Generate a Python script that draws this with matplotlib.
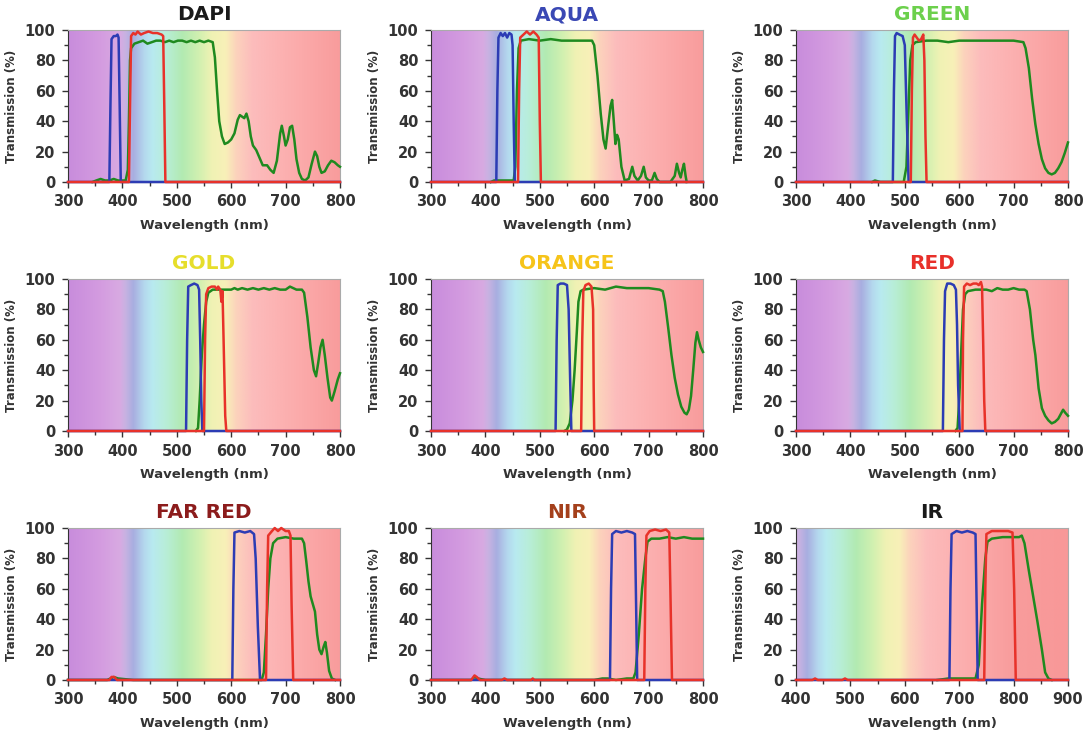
import numpy as np
import matplotlib
matplotlib.use("Agg")
import matplotlib.pyplot as plt
from matplotlib.colors import to_rgb
from matplotlib.ticker import MultipleLocator

plt.rcParams['font.family'] = ['DejaVu Sans']
plt.rcParams['font.weight'] = 'bold'

# background spectrum (wavelength -> pastel colour)
spec_nm = [300, 360, 395, 405, 420, 440, 455, 480, 510, 540, 565, 590, 610, 640, 700, 760, 800, 900]
spec_col = ['#c88cdc', '#d49ce0', '#d8aae2', '#c8b2e2', '#a8aee0', '#b4d8ee', '#b8eaf0', '#b8eed8',
            '#b2eab2', '#d0f0b0', '#f0f2b4', '#f8f0b8', '#fcd2bc', '#fcbcbc', '#fcb0b0', '#faa4a4',
            '#f89c9c', '#f89898']

# (wavelength nm, transmission %)
dapi_ex = [(300,0),(376,0),(378,50),(380,94),(384,96),(388,96),(391,97),(393,95),(395,50),(397,0),(800,0)]
dapi_em = [(300,0),(412,0),(414,50),(416,96),(420,98),(424,97),(428,99),(434,97),(440,98),(448,99),(456,98),
           (464,98),(472,97),(475,96),(477,50),(479,0),(800,0)]
dapi_dc = [(345,0),(352,1),(360,2),(368,1),(376,1),(384,2),(392,1),(400,1),(406,1),(410,8),(412,40),(414,80),
           (416,88),(422,91),(430,92),(438,93),(446,91),(454,92),(462,93),(470,93),(478,92),(486,93),(494,92),
           (502,93),(510,93),(518,92),(526,93),(534,92),(542,93),(550,92),(558,93),(566,92),(570,82),(574,60),
           (578,40),(583,30),(588,25),(594,26),(600,28),(606,32),(612,41),(616,44),(620,43),(624,42),(628,45),
           (632,40),(636,30),(640,24),(646,21),(652,16),(658,11),(666,11),(672,8),(678,6),(684,14),(690,32),
           (693,37),(697,30),(700,24),(704,28),(708,36),(712,37),(716,28),(720,15),(725,6),(730,2),(736,1),
           (742,3),(748,12),(754,20),(758,17),(762,10),(766,6),(772,7),(778,11),(784,14),(790,13),(796,11),(800,10)]

aqua_ex = [(300,0),(420,0),(422,60),(424,95),(428,98),(432,96),(436,98),(440,95),(444,98),(448,97),(450,90),
           (452,40),(454,0),(800,0)]
aqua_em = [(300,0),(460,0),(462,60),(464,95),(470,97),(476,99),(482,97),(488,99),(494,97),(498,95),(500,40),
           (502,0),(800,0)]
aqua_dc = [(410,0),(416,1),(430,1),(445,1),(452,1),(455,10),(458,60),(461,88),(465,93),(480,94),(500,93),
           (520,94),(540,93),(560,93),(580,93),(596,93),(600,90),(606,70),(612,45),(617,28),(621,22),(626,38),
           (630,50),(633,54),(636,40),(639,25),(642,31),(645,28),(650,10),(656,1),(664,2),(670,10),(674,4),
           (680,1),(686,4),(691,10),(695,3),(700,1),(706,1),(711,6),(715,2),(720,0),(740,0),(748,4),(752,12),
           (756,6),(759,3),(762,8),(765,12),(768,4),(770,0)]

green_ex = [(300,0),(478,0),(480,60),(482,96),(485,98),(490,97),(496,96),(500,90),(503,50),(507,0),(800,0)]
green_em = [(300,0),(511,0),(513,60),(515,95),(518,97),(522,95),(526,93),(530,94),(534,97),(536,80),(538,30),
            (540,0),(800,0)]
green_dc = [(440,0),(445,1),(455,0),(470,0),(490,0),(498,0),(503,10),(507,50),(510,80),(514,90),(520,92),
            (540,93),(560,93),(580,92),(600,93),(620,93),(640,93),(660,93),(680,93),(700,93),(718,92),(722,88),
            (728,75),(734,55),(740,38),(746,25),(752,15),(758,9),(764,6),(770,5),(776,6),(782,9),(788,13),
            (794,19),(800,26)]

gold_ex = [(300,0),(517,0),(519,60),(521,95),(526,96),(532,97),(538,96),(541,93),(543,60),(545,20),(547,0),(800,0)]
gold_em = [(300,0),(550,0),(552,60),(554,90),(558,94),(564,95),(570,95),(574,93),(576,95),(580,93),(582,85),
           (584,92),(586,60),(589,10),(591,0),(800,0)]
gold_dc = [(535,0),(539,2),(542,20),(546,50),(550,70),(554,85),(558,91),(566,93),(580,93),(590,93),(600,93),
           (606,94),(612,93),(620,94),(630,93),(640,94),(650,93),(660,94),(670,93),(680,94),(690,93),(700,93),
           (708,95),(714,94),(720,93),(730,93),(734,91),(740,75),(746,55),(752,40),(756,36),(760,45),(764,55),
           (768,60),(772,50),(777,35),(782,22),(785,20),(790,26),(796,34),(800,38)]

orange_ex = [(300,0),(529,0),(531,60),(533,96),(538,97),(544,97),(550,96),(553,80),(556,30),(558,0),(800,0)]
orange_em = [(300,0),(576,0),(578,60),(580,92),(584,96),(590,97),(595,95),(598,80),(599,30),(600,0),(800,0)]
orange_dc = [(545,0),(550,1),(555,5),(560,20),(564,40),(568,65),(571,85),(575,92),(580,93),(600,94),(620,93),
             (640,95),(660,94),(680,94),(700,94),(720,93),(726,92),(730,85),(736,68),(742,50),(748,35),(754,24),
             (760,16),(766,12),(770,11),(774,14),(778,23),(782,40),(786,58),(789,65),(792,60),(796,55),(800,52)]

red_ex = [(300,0),(570,0),(572,60),(574,92),(578,97),(584,97),(590,96),(594,93),(596,70),(598,30),(601,0),(800,0)]
red_em = [(300,0),(606,0),(607,60),(609,95),(614,97),(620,96),(626,97),(632,97),(636,96),(640,98),(642,95),
          (644,60),(646,20),(648,0),(800,0)]
red_dc = [(593,0),(597,2),(600,20),(604,55),(607,80),(611,90),(616,92),(630,93),(650,93),(660,92),(670,94),
          (680,93),(690,93),(700,94),(710,93),(720,93),(724,92),(730,80),(736,60),(740,50),(746,28),(752,15),
          (758,10),(764,7),(770,5),(776,6),(782,8),(788,12),(791,14),(795,12),(800,10)]

farred_ex = [(300,0),(602,0),(604,60),(606,97),(615,98),(625,97),(635,98),(642,96),(645,80),(649,35),(653,0),(800,0)]
farred_em = [(300,0),(376,0),(380,2),(385,2),(390,0),(664,0),(666,60),(668,95),(675,98),(680,100),(686,98),
             (692,100),(700,98),(706,98),(709,95),(711,50),(714,0),(800,0)]
farred_dc = [(300,0),(372,0),(378,1),(384,2),(392,1),(420,0),(650,0),(656,0),(660,5),(664,30),(668,60),(672,80),
             (677,90),(685,93),(700,94),(715,93),(730,93),(734,90),(738,78),(742,65),(746,55),(750,50),(754,45),
             (758,30),(762,20),(766,17),(770,22),(773,25),(776,18),(780,6),(785,1),(791,0)]

nir_ex = [(300,0),(629,0),(631,60),(633,96),(640,98),(650,97),(660,98),(670,97),(675,96),(677,50),(679,0),(800,0)]
nir_em = [(300,0),(374,0),(380,3),(384,2),(390,0),(430,0),(435,1),(440,0),(484,0),(487,1),(490,0),(692,0),
          (694,60),(696,95),(702,98),(712,99),(722,98),(732,99),(738,97),(740,60),(743,0),(800,0)]
nir_dc = [(300,0),(374,0),(380,2),(386,1),(400,0),(600,0),(615,1),(625,1),(640,0),(660,1),(672,1),(676,5),
          (682,30),(688,60),(694,80),(698,91),(705,93),(720,93),(735,94),(750,93),(765,94),(780,93),(800,93)]

ir_ex = [(400,0),(682,0),(684,60),(686,96),(695,98),(705,97),(715,98),(725,97),(730,96),(732,50),(734,0),(900,0)]
ir_em = [(400,0),(430,0),(435,1),(440,0),(485,0),(490,1),(495,0),(746,0),(748,60),(750,96),(760,98),(775,98),
         (790,98),(798,97),(801,60),(804,0),(900,0)]
ir_dc = [(660,0),(680,1),(700,1),(720,1),(730,1),(736,10),(742,50),(748,80),(752,91),(760,93),(780,94),
         (800,94),(810,94),(815,95),(820,90),(828,72),(836,55),(844,38),(852,20),(858,5),(864,1),(870,0)]

titles = ['DAPI', 'AQUA', 'GREEN', 'GOLD', 'ORANGE', 'RED', 'FAR RED', 'NIR', 'IR']
title_colors = ['#1a1a1a', '#3a48b4', '#6cd04c', '#e6de2c', '#f6c41a', '#e8302a', '#8c1c1c', '#a4401c', '#1a1a1a']
xranges = [(300, 800)] * 8 + [(400, 900)]
curves = [(dapi_ex, dapi_em, dapi_dc), (aqua_ex, aqua_em, aqua_dc), (green_ex, green_em, green_dc),
          (gold_ex, gold_em, gold_dc), (orange_ex, orange_em, orange_dc), (red_ex, red_em, red_dc),
          (farred_ex, farred_em, farred_dc), (nir_ex, nir_em, nir_dc), (ir_ex, ir_em, ir_dc)]

fig = plt.figure(figsize=(10.9, 7.38), dpi=100)
lefts = [68, 431, 796]
tops = [30, 279, 528]
W, H = 272, 152

spec_rgb = np.array([to_rgb(c) for c in spec_col])

for i in range(9):
    r, c = divmod(i, 3)
    ax = fig.add_axes([lefts[c] / 1090, 1 - (tops[r] + H) / 738, W / 1090, H / 738])
    x0, x1 = xranges[i]
    xs = np.linspace(x0, x1, 400)
    img = np.stack([np.interp(xs, spec_nm, spec_rgb[:, k]) for k in range(3)], axis=-1)[None, :, :]
    ax.imshow(img, extent=[x0, x1, 0, 100], aspect='auto', zorder=0, interpolation='bilinear')

    ex, em, dc = curves[i]
    ax.plot(*zip(*dc), color='#1f8a1f', lw=1.8, zorder=3, clip_on=False)
    ax.plot(*zip(*ex), color='#2c3cb4', lw=1.8, zorder=4, clip_on=False)
    ax.plot(*zip(*em), color='#e8322a', lw=1.8, zorder=5, clip_on=False)

    ax.set_xlim(x0, x1)
    ax.set_ylim(0, 100)
    ax.xaxis.set_major_locator(MultipleLocator(100))
    ax.xaxis.set_minor_locator(MultipleLocator(50))
    ax.yaxis.set_major_locator(MultipleLocator(20))
    ax.yaxis.set_minor_locator(MultipleLocator(10))
    ax.tick_params(which='major', direction='out', length=4, width=1, labelsize=10.5,
                   colors='#333333', pad=5)
    ax.tick_params(which='minor', direction='out', length=3, width=1, colors='#333333')
    for lab in ax.get_xticklabels() + ax.get_yticklabels():
        lab.set_fontweight('bold')
    for s in ['top', 'right']:
        ax.spines[s].set_color('#aaaaaa')
    ax.spines['left'].set_color('#333333')
    ax.spines['bottom'].set_color('#333333')

    ax.set_xlabel('Wavelength (nm)', fontsize=9.5, fontweight='bold', color='#333333', labelpad=7)
    ax.set_ylabel('Transmission (%)', fontsize=8.5, fontweight='bold', color='#333333', labelpad=5)
    ax.set_title(titles[i], fontsize=14.5, fontweight='bold', color=title_colors[i], pad=7)

fig.savefig('out.png', dpi=100)
